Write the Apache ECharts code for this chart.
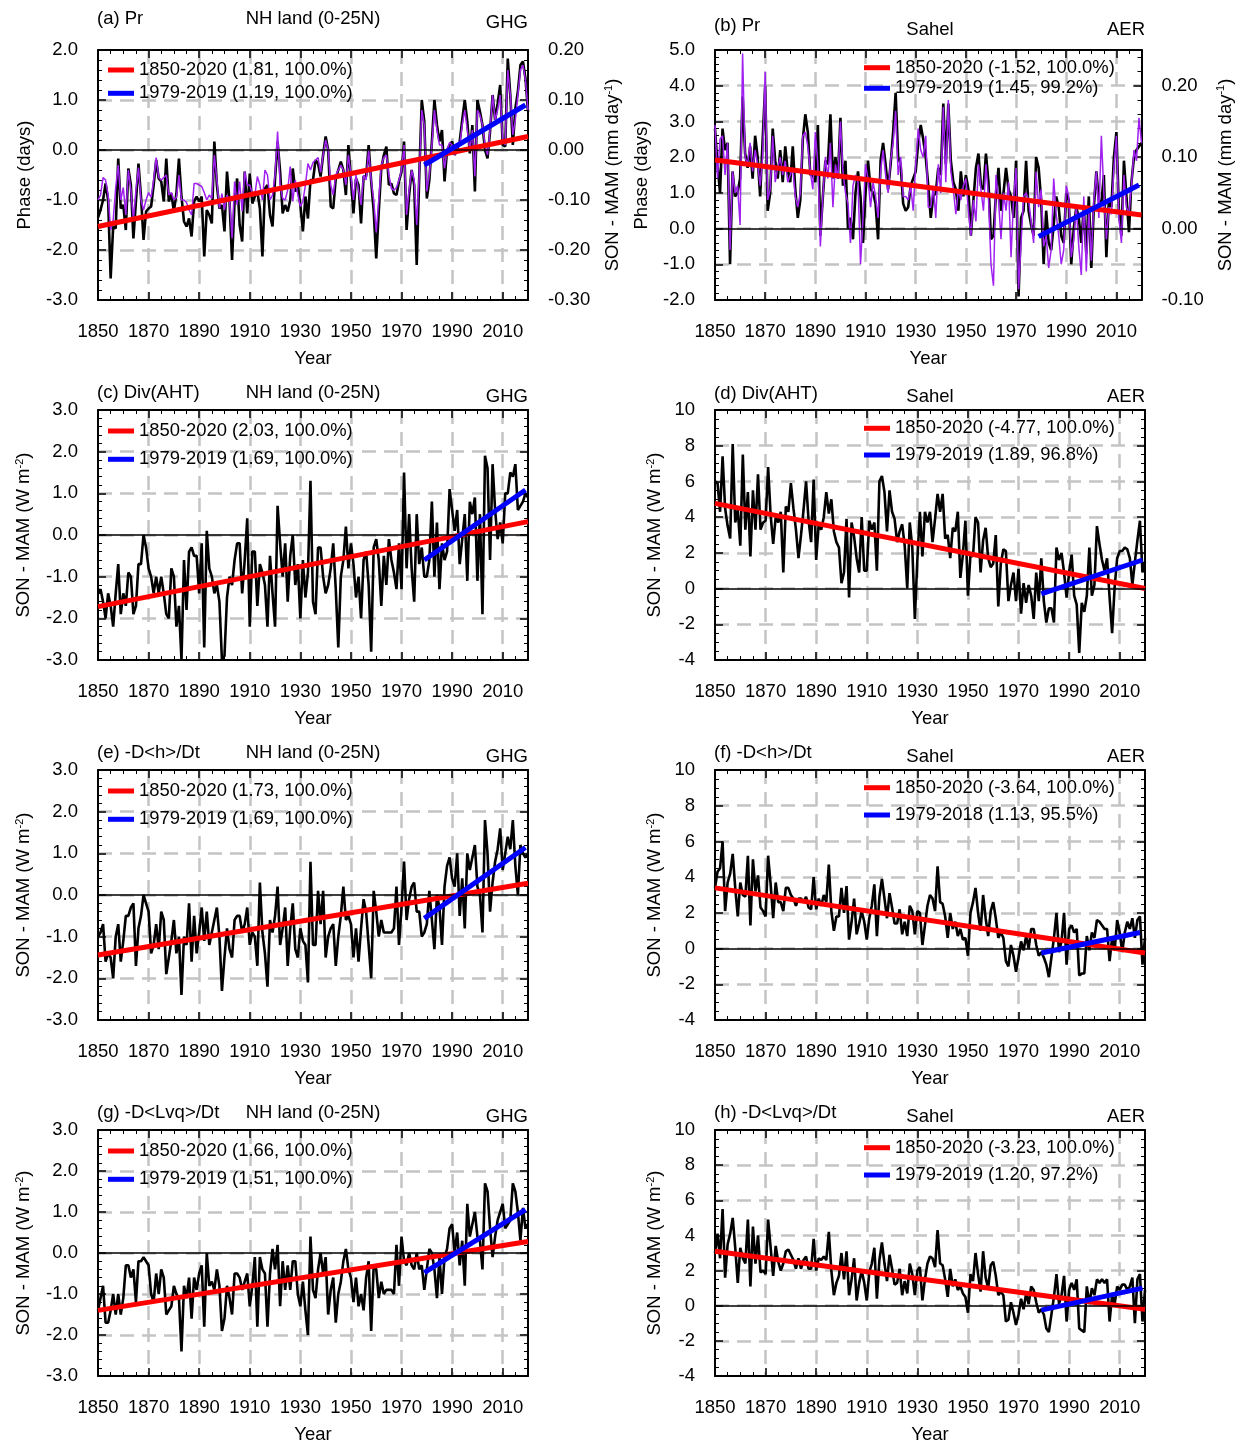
<!DOCTYPE html>
<html>
<head>
<meta charset="utf-8">
<script src="https://cdn.jsdelivr.net/npm/echarts@6/dist/echarts.min.js"></script>
<style>html,body{margin:0;padding:0;background:#fff}#chart{width:1236px;height:1445px}</style>
</head>
<body>
<div id="chart"></div>
<script>
// ---------- categories ----------
const years = [];
for (let y = 1850; y <= 2020; y++) years.push(y);

// ---------- series values ----------
// (a) Pr, NH land, phase (days)
const blackA = [
 -1.35,-1.20,-1.00,-0.67,-1.00,-2.57,-1.53,-1.57,-0.17,-1.17,
 -1.10,-1.60,-0.37,-0.70,-1.77,-1.03,-0.27,-0.93,-1.80,-1.23,
 -1.17,-1.13,-0.70,-0.20,-0.57,-0.63,-1.03,-0.17,-1.03,-0.87,
 -1.23,-0.87,-0.17,-0.93,-1.43,-1.53,-1.37,-1.73,-1.03,-0.93,
 -1.03,-0.93,-2.13,-1.20,-1.30,-1.47,0.17,-0.70,-1.17,-1.10,
 -1.63,-0.43,-1.03,-2.20,-1.03,-0.57,-1.50,-1.83,-0.43,-1.27,
 -0.47,-1.07,-0.93,-0.83,-1.17,-2.13,-0.77,-0.70,-1.30,-1.53,
 -0.57,0.17,-0.43,-1.27,-1.10,-1.23,-1.00,-0.37,-0.83,-0.70,
 -1.10,-1.63,-0.93,-1.37,-0.60,-0.60,-0.20,-0.27,-0.53,-0.10,
 0.27,0.00,-1.13,-1.17,-0.57,-0.40,-0.23,-0.40,-0.90,0.10,
 -0.60,-1.27,-0.57,-0.70,-1.47,-0.53,-0.53,0.10,-0.63,-1.23,
 -2.17,-1.23,-0.37,-0.10,0.07,-0.70,-0.67,-0.87,-0.90,-0.63,
 -0.43,0.17,-1.60,-0.90,-0.40,-0.70,-2.30,-0.53,1.00,0.57,
 -0.97,-0.60,0.17,1.00,0.50,0.17,0.40,-0.63,0.00,0.10,
 0.17,-0.10,0.00,0.17,0.60,1.00,0.57,-0.07,0.50,-0.83,
 1.00,0.77,0.50,0.00,-0.17,0.37,1.10,0.60,0.93,1.30,
 0.10,0.07,1.83,1.10,0.10,0.83,1.17,1.70,1.77,1.43,
 0.77];
// (a) Pr, NH land, SON - MAM (mm/day)
const purpleA = [
 -0.100,-0.090,-0.055,-0.060,-0.090,-0.160,-0.140,-0.075,-0.030,-0.100,
 -0.075,-0.130,-0.040,-0.080,-0.140,-0.080,-0.035,-0.100,-0.120,-0.100,
 -0.085,-0.095,-0.060,-0.015,-0.055,-0.060,-0.055,-0.050,-0.090,-0.085,
 -0.100,-0.095,-0.050,-0.100,-0.100,-0.105,-0.120,-0.130,-0.067,-0.067,
 -0.070,-0.073,-0.085,-0.100,-0.090,-0.097,-0.010,-0.060,-0.117,-0.087,
 -0.120,-0.090,-0.100,-0.177,-0.063,-0.110,-0.063,-0.123,-0.043,-0.070,
 -0.070,-0.087,-0.090,-0.053,-0.070,-0.100,-0.040,-0.050,-0.100,-0.090,
 -0.050,0.037,-0.070,-0.097,-0.100,-0.080,-0.033,-0.103,-0.060,-0.090,
 -0.113,-0.103,-0.070,-0.027,-0.040,-0.025,-0.020,-0.015,-0.045,-0.010,
 0.020,0.000,-0.070,-0.090,-0.050,-0.040,-0.030,-0.040,-0.070,-0.010,
 -0.050,-0.100,-0.050,-0.080,-0.110,-0.050,-0.060,0.000,-0.060,-0.100,
 -0.165,-0.100,-0.030,-0.015,-0.010,-0.050,-0.077,-0.080,-0.075,-0.060,
 -0.040,0.010,-0.130,-0.080,-0.040,-0.060,-0.150,-0.050,0.080,0.050,
 -0.083,-0.050,0.010,0.080,0.040,0.010,0.010,-0.037,0.000,0.015,
 0.010,-0.010,0.005,0.010,0.050,0.080,0.040,0.000,0.040,-0.053,
 0.080,0.070,0.050,0.010,-0.010,0.040,0.110,0.060,0.080,0.110,
 0.020,0.010,0.160,0.110,0.030,0.060,0.110,0.160,0.170,0.140,
 0.080];
// (b) Pr, Sahel, phase (days)
const blackB = [
 2.8,1.8,1.0,2.8,2.2,2.4,-1.0,1.6,0.9,1.0,
 1.4,3.7,2.1,1.7,2.3,1.4,2.6,2.0,0.9,2.5,
 4.0,0.5,1.0,2.8,1.9,1.4,2.2,1.3,2.3,1.6,
 1.3,2.3,1.1,0.3,0.8,2.5,3.2,2.7,1.5,1.5,
 1.3,2.9,-0.2,0.9,1.9,1.8,3.2,1.4,2.0,1.4,
 3.1,1.2,1.9,0.0,0.3,-0.3,1.0,1.6,0.9,-0.4,
 1.0,1.9,1.1,1.0,0.7,-0.3,1.9,2.4,1.8,1.1,
 1.8,2.7,3.8,2.0,1.8,0.7,0.5,0.6,1.2,1.4,
 1.6,2.4,2.9,2.5,2.0,1.2,0.3,0.9,1.0,1.7,
 1.5,3.5,1.8,3.5,1.9,1.3,1.1,0.5,1.6,0.9,
 1.5,1.1,-0.2,0.8,1.7,2.1,1.2,1.1,2.1,1.3,
 -0.3,-0.2,1.0,1.7,0.5,1.0,1.7,1.1,0.9,0.3,
 1.9,-1.9,0.3,0.5,1.9,0.5,0.1,-0.2,2.0,1.7,
 0.8,-1.0,0.5,-0.4,-0.6,0.1,0.9,0.6,-0.2,-0.4,
 1.0,0.8,-1.0,0.0,0.6,0.3,-0.4,0.6,-0.7,0.9,
 -1.1,0.6,1.6,0.8,0.7,1.5,-0.8,0.8,0.6,2.0,
 2.7,0.5,-0.2,1.9,0.9,-0.1,1.3,2.0,2.2,2.3,
 2.4];
// (b) Pr, Sahel, SON - MAM (mm/day)
const purpleB = [
 0.145,0.070,0.125,0.130,0.075,0.120,-0.030,0.080,0.050,0.060,
 0.005,0.245,0.100,0.090,0.120,0.080,0.110,0.090,0.060,0.100,
 0.220,0.040,0.055,0.130,0.065,0.085,0.100,0.075,0.095,0.065,
 0.075,0.085,0.045,0.030,0.050,0.130,0.135,0.115,0.080,0.055,
 0.135,0.090,-0.025,0.045,0.100,0.070,0.120,0.030,0.090,0.070,
 0.150,0.080,0.050,0.035,-0.020,0.060,0.075,0.065,-0.050,0.015,
 0.090,0.070,0.030,0.065,0.045,0.015,0.080,0.110,0.075,0.050,
 0.095,0.120,0.165,0.075,0.100,0.045,0.045,0.040,0.060,0.025,
 0.090,0.140,0.110,0.100,0.130,0.030,0.030,0.060,0.015,0.090,
 0.050,0.170,0.065,0.180,0.080,0.055,0.020,0.055,0.040,0.060,
 0.070,0.025,-0.010,0.040,0.010,0.090,0.055,0.025,0.090,0.045,
 -0.050,-0.080,0.075,0.040,-0.015,0.050,0.025,0.065,-0.040,0.040,
 0.085,-0.085,-0.020,0.045,0.050,0.040,0.010,-0.020,0.080,0.030,
 0.055,-0.025,-0.010,-0.055,-0.030,0.070,0.020,-0.010,-0.050,-0.030,
 0.060,0.045,-0.040,-0.015,0.030,-0.025,-0.065,0.045,-0.060,0.025,
 -0.045,0.040,0.080,0.015,0.130,0.050,-0.015,0.030,0.020,0.085,
 0.130,0.015,-0.020,0.075,0.030,0.020,0.060,0.110,0.095,0.155,
 0.120];
// (c) Div(AHT), NH land (W m-2)
const divAhtNH = [
 -1.4,-1.3,-1.6,-2.0,-1.4,-1.7,-2.2,-1.4,-0.7,-1.9,
 -1.4,-1.7,-0.9,-1.0,-1.9,-1.7,-0.7,-0.7,0.0,-0.3,
 -0.8,-1.0,-1.4,-1.0,-1.4,-1.0,-1.4,-1.9,-2.0,-0.8,
 -1.0,-2.2,-1.7,-3.0,-0.6,-1.8,-0.4,-0.3,-0.5,-0.5,
 -1.4,-0.2,-2.7,0.1,-0.8,-1.0,-1.4,-1.2,-1.6,-3.0,
 -2.9,-1.5,-1.0,-1.2,-0.6,-0.2,-0.2,-1.4,-0.6,0.4,
 -2.2,-0.4,-0.4,-1.7,-0.7,-0.9,-1.2,-2.2,-0.5,-1.4,
 -2.2,0.7,-0.2,-1.0,-0.2,-1.6,-0.5,0.0,-1.2,-0.7,
 -2.0,-0.6,-1.5,-0.9,1.3,-1.6,-1.9,-0.3,-0.3,-1.0,
 -1.4,-1.2,-0.8,-0.2,-1.3,-2.7,-1.0,-0.6,0.2,-0.8,
 -0.2,-0.7,-1.5,-1.0,-2.0,-0.6,-0.4,-1.2,-2.8,-0.3,
 -0.1,-0.6,-1.7,-0.5,-1.2,-0.1,-0.6,-0.9,-1.3,-0.2,
 -1.3,1.5,-0.8,0.5,-0.8,-1.6,0.5,-0.7,-0.3,-1.0,
 -1.0,-0.6,0.8,-1.0,0.3,-1.3,-0.2,-0.6,-0.4,1.1,
 0.6,0.1,0.6,-0.7,-0.1,0.5,-1.1,0.8,0.5,0.9,
 -1.1,0.5,-1.9,1.9,1.6,-0.6,1.7,0.6,-0.1,0.3,
 -0.2,1.0,1.0,1.5,1.4,1.7,0.6,0.7,0.8,1.0,
 0.9];
// (d) Div(AHT), Sahel (W m-2)
const divAhtSahel = [
 6.0,5.9,4.3,7.4,4.5,3.5,2.8,8.1,3.7,4.4,
 2.4,7.5,3.3,5.4,1.8,5.5,3.3,6.4,3.3,3.7,
 3.8,6.8,4.1,2.5,4.0,3.7,4.3,0.9,4.6,4.3,
 5.9,4.5,3.3,1.7,3.0,4.4,6.0,3.8,2.6,6.1,
 1.6,3.6,3.3,4.0,5.4,4.2,5.0,3.2,2.6,2.3,
 0.3,0.9,3.9,-0.5,3.7,2.9,1.7,0.9,4.0,1.0,
 1.0,3.8,3.3,3.7,1.0,6.0,6.3,5.4,3.2,5.5,
 4.3,3.9,2.6,3.2,3.6,2.4,0.0,3.7,2.3,-1.7,
 1.6,4.3,1.8,4.3,3.7,4.3,2.6,3.9,5.3,4.3,
 5.3,2.8,3.0,1.7,3.4,3.2,4.3,0.6,1.9,3.8,
 -0.4,1.9,1.8,4.0,3.7,0.9,2.7,3.4,1.7,1.2,
 1.4,3.0,-1.0,1.4,2.2,2.1,-0.7,0.2,0.9,-0.7,
 1.1,-1.4,0.3,-0.8,0.2,-0.4,-1.7,0.9,-0.7,1.7,
 -0.7,-1.9,-1.1,-1.1,-1.9,2.3,1.6,2.0,0.9,-0.5,
 0.9,1.9,-0.4,-0.9,-3.6,-0.8,-1.3,-0.4,2.3,-0.4,
 0.2,3.5,2.5,1.6,1.0,1.7,-0.5,-2.5,0.1,1.7,
 2.1,2.1,2.3,2.2,1.7,0.2,1.5,2.7,3.8,0.9,
 1.5];
// (e) -D<h>/Dt, NH land (W m-2)
const dhNH = [
 -1.0,-0.9,-0.7,-1.6,-1.4,-1.5,-2.0,-1.0,-0.7,-1.6,
 -1.1,-0.5,-0.5,-0.3,-0.2,-1.7,-0.8,-0.5,0.0,-0.2,
 -0.4,-1.4,-1.2,-0.7,-1.3,-0.4,-0.6,-1.9,-1.5,-1.1,
 -0.6,-1.4,-1.0,-2.4,-1.0,-1.2,-0.2,-1.6,-0.5,-1.4,
 -0.9,-0.3,-1.1,-0.4,-1.2,-0.9,-0.6,-0.3,-1.0,-2.3,
 -1.5,-0.8,-1.3,-1.5,-0.6,-0.5,-0.5,-0.9,-0.7,-0.3,
 -1.2,-0.9,-1.0,-1.7,0.3,-0.9,-1.4,-2.2,-0.6,-0.9,
 -0.5,0.2,-1.2,-0.8,-0.3,-1.7,-0.8,-0.2,-1.3,-1.5,
 -0.8,-1.1,-1.2,-2.1,0.8,-1.2,-1.2,0.1,-0.7,0.1,
 -1.5,-1.0,-0.8,-0.7,-1.7,-1.0,-0.5,0.2,-0.6,-0.5,
 -0.7,-1.5,-0.8,-1.6,-0.8,-0.1,-0.4,-1.2,-2.0,0.1,
 -0.4,-1.0,-0.6,-0.9,-0.9,-0.9,-0.9,-0.8,0.2,-1.2,
 -0.3,0.8,-0.6,-0.1,0.2,0.3,-0.4,-0.4,-1.0,-0.9,
 -0.7,0.1,-0.6,-1.3,0.0,-0.3,-1.2,0.2,0.7,0.9,
 0.4,0.2,1.0,-0.5,0.4,-0.8,1.0,0.6,0.9,1.2,
 0.2,0.0,-0.9,1.8,1.0,-0.4,0.3,0.8,1.1,1.6,
 0.6,1.0,1.4,1.1,1.8,0.7,0.0,1.2,1.0,0.9,
 1.0];
// (f) -D<h>/Dt, Sahel (W m-2)
const dhSahel = [
 3.4,4.3,4.5,6.0,2.1,3.7,4.2,5.3,3.4,1.8,
 3.7,3.0,2.9,5.2,1.3,5.0,3.2,4.1,2.3,2.1,
 1.8,5.2,3.6,1.7,3.7,2.6,2.6,2.1,3.4,3.4,
 3.0,2.8,2.4,2.8,2.8,2.6,2.9,2.3,2.2,4.0,
 2.2,2.8,2.4,3.0,2.6,4.7,2.1,1.0,1.8,1.8,
 3.4,2.0,3.5,0.5,1.5,2.8,0.8,1.4,2.1,1.5,
 0.5,1.7,2.4,3.6,0.7,2.9,3.9,2.8,1.7,3.1,
 2.3,1.4,1.4,2.2,0.8,1.5,0.7,2.4,2.1,0.8,
 2.1,2.0,0.2,1.3,2.4,3.0,2.8,2.1,4.6,2.6,
 2.5,1.8,0.6,2.0,1.1,1.5,0.7,1.1,0.5,0.6,
 -0.4,2.0,2.6,3.4,2.0,1.0,3.0,1.7,0.7,2.1,
 2.6,1.7,0.6,0.9,0.6,-0.7,-1.0,0.2,-0.4,-1.3,
 -0.5,0.4,-0.1,0.7,0.0,1.1,1.1,0.2,-0.4,-0.2,
 -0.5,-0.9,-1.6,-0.5,0.6,2.0,-0.2,0.4,2.0,-0.9,
 1.1,1.3,0.9,1.1,-1.5,-1.4,-1.4,0.7,-0.1,0.9,
 0.6,1.6,1.5,1.3,1.1,1.1,-0.7,0.6,-0.1,1.6,
 0.9,-0.2,0.9,1.5,1.1,1.7,0.6,1.6,1.8,-0.9,
 0.6];
// (g) -D<Lvq>/Dt, NH land (W m-2)
const dlvqNH = [
 -1.4,-1.1,-0.8,-1.7,-1.7,-1.4,-1.0,-1.5,-1.0,-1.5,
 -1.1,-0.3,-0.3,-0.6,-0.4,-1.2,-0.2,-0.2,-0.1,-0.2,
 -0.3,-1.0,-1.2,-0.5,-1.0,-0.4,-0.6,-1.5,-1.4,-1.3,
 -0.8,-1.0,-1.1,-2.4,-0.8,-1.1,-0.6,-1.6,-0.6,-0.9,
 -0.5,-0.3,-1.8,0.0,-0.8,-0.7,-0.9,-0.4,-0.8,-1.9,
 -1.6,-0.8,-1.1,-1.5,-0.5,-0.5,-0.6,-0.9,-0.7,-0.5,
 -1.3,-0.8,-0.1,-1.8,-0.1,-0.4,-0.5,-1.8,-0.5,0.1,
 -0.4,0.2,-1.3,-0.2,-0.9,-0.3,-0.9,-0.2,-0.2,-1.0,
 -1.3,-0.7,-1.4,-2.0,0.4,-0.9,-1.1,-0.4,0.0,-0.5,
 -0.1,-1.5,-0.9,-0.6,-1.7,-1.0,-0.7,-0.2,0.1,-0.4,
 -0.6,-1.2,-0.6,-1.3,-1.0,-1.4,-0.6,-0.2,-1.9,-0.3,
 -0.4,-1.1,-0.7,-1.0,-0.9,-0.9,-0.9,-1.0,0.2,-0.8,
 0.4,-0.2,-0.3,0.0,-0.3,-0.4,0.0,-0.4,-0.3,-0.9,
 -0.4,0.1,0.0,-0.4,-1.1,-0.1,-1.0,-0.1,0.1,0.6,
 0.7,0.0,0.5,-0.3,0.3,-0.8,1.2,0.4,0.7,1.0,
 0.4,0.3,-0.4,1.7,1.5,0.6,-0.1,0.4,0.8,1.0,
 1.2,0.6,0.7,0.8,1.7,1.5,1.0,0.3,1.1,0.6,
 0.7];
// (h) -D<Lvq>/Dt, Sahel (W m-2)
const dlvqSahel = [
 3.0,4.1,2.7,5.5,1.6,3.5,4.1,5.0,3.3,1.3,
 3.3,2.7,2.4,4.9,1.1,4.5,2.4,4.0,1.9,2.0,
 1.8,4.9,3.3,1.7,3.4,2.5,2.0,2.4,3.1,3.2,
 2.9,2.6,2.1,2.7,2.1,2.6,2.8,2.1,2.1,3.8,
 2.0,2.7,2.6,2.8,2.6,4.2,2.0,0.6,1.3,1.7,
 3.0,1.5,3.1,0.6,1.5,2.7,0.3,1.3,2.0,1.3,
 0.3,1.9,2.4,3.3,0.4,2.6,3.6,2.4,1.4,2.9,
 2.1,1.2,1.3,2.1,0.6,1.4,0.7,2.4,1.8,0.6,
 2.0,2.2,0.3,1.5,2.4,2.8,2.7,2.2,4.3,2.4,
 2.3,1.5,0.5,2.1,1.1,1.5,0.9,1.1,0.7,0.5,
 -0.4,1.8,1.4,3.0,1.8,0.8,3.1,1.6,1.0,2.3,
 2.5,1.7,0.6,0.8,0.6,-0.9,-0.8,0.2,-0.4,-1.1,
 -0.5,0.4,-0.2,0.7,0.1,1.1,0.9,0.2,-0.4,-0.2,
 -0.5,-1.3,-1.5,-0.5,0.5,1.8,0.1,0.6,1.7,-0.9,
 0.9,1.3,0.9,1.5,-1.3,-1.4,-1.5,1.1,0.1,1.0,
 0.6,1.5,1.3,1.5,1.3,1.5,-0.9,0.6,0.1,1.1,
 0.9,1.2,1.2,0.9,1.1,1.6,-1.0,1.5,1.8,-0.9,
 0.9];

// ---------- trend lines (start, end values) ----------
const redYears = [1850, 2020];
const trendRedA = [-1.53, 0.27], trendBlueA = [-0.30, 0.90];
const trendRedB = [1.92, 0.38],  trendBlueB = [-0.22, 1.22];
const trendRedC = [-1.72, 0.32], trendBlueC = [-0.60, 1.08];
const trendRedD = [4.77, 0.00],  trendBlueD = [-0.30, 1.60];
const trendRedE = [-1.44, 0.28], trendBlueE = [-0.56, 1.14];
const trendRedF = [3.40, -0.25], trendBlueF = [-0.25, 0.90];
const trendRedG = [-1.40, 0.28], trendBlueG = [-0.48, 1.06];
const trendRedH = [3.10, -0.20], trendBlueH = [-0.25, 1.00];

// ---------- tick / text labels ----------
const xTicks = {min: 1850, max: 2020, interval: 20};
const nameWm2 = '{n|SON - MAM (W m}{s|-2}{n|)}';
const nameMmDay = '{n|SON - MAM (mm day}{s|-1}{n|)}';

// ---------- layout ----------
const FONT = '"Liberation Sans", Arial, Helvetica, sans-serif';
const FS = 18.5;
const GL = [98, 715], GT = [50, 410, 770, 1130], GW = 430, GH = 250;

const panels = [
 {col:0,row:0, black:blackA, purple:purpleA, red:trendRedA, blue:trendBlueA, blueYears:[1979,2019],
  ymin:-3,ymax:2,yint:1,dec:1,minor:5, yname:'Phase (days)', nameGap:64,
  right:{min:-0.3,max:0.2,interval:0.1,nameGap:75,hideMax:false},
  labels:['(a) Pr','NH land (0-25N)','GHG'], labelY:[18,18,22],
  legend:['1850-2020 (1.81, 100.0%)','1979-2019 (1.19, 100.0%)'], legTop:61, legGap:5.3},
 {col:1,row:0, black:blackB, purple:purpleB, red:trendRedB, blue:trendBlueB, blueYears:[1979,2019],
  ymin:-2,ymax:5,yint:1,dec:1,minor:5, yname:'Phase (days)', nameGap:64,
  right:{min:-0.1,max:0.25,interval:0.1,nameGap:74,hideMax:true},
  labels:['(b) Pr','Sahel','AER'], labelY:[25,29,29],
  legend:['1850-2020 (-1.52, 100.0%)','1979-2019 (1.45, 99.2%)'], legTop:58.7, legGap:2.6},
 {col:0,row:1, black:divAhtNH, red:trendRedC, blue:trendBlueC, blueYears:[1979,2019],
  ymin:-3,ymax:3,yint:1,dec:1,minor:5, yname:nameWm2, nameGap:64,
  labels:['(c) Div(AHT)','NH land (0-25N)','GHG'], labelY:[392,392,396],
  legend:['1850-2020 (2.03, 100.0%)','1979-2019 (1.69, 100.0%)'], legTop:422, legGap:10.3},
 {col:1,row:1, black:divAhtSahel, red:trendRedD, blue:trendBlueD, blueYears:[1979,2019],
  ymin:-4,ymax:10,yint:2,dec:0,minor:4, yname:nameWm2, nameGap:50,
  labels:['(d) Div(AHT)','Sahel','AER'], labelY:[393,396,396],
  legend:['1850-2020 (-4.77, 100.0%)','1979-2019 (1.89, 96.8%)'], legTop:419.3, legGap:8.7},
 {col:0,row:2, black:dhNH, red:trendRedE, blue:trendBlueE, blueYears:[1979,2019],
  ymin:-3,ymax:3,yint:1,dec:1,minor:5, yname:nameWm2, nameGap:64,
  labels:['(e) -D<h>/Dt','NH land (0-25N)','GHG'], labelY:[752,752,756],
  legend:['1850-2020 (1.73, 100.0%)','1979-2019 (1.69, 100.0%)'], legTop:782, legGap:10.3},
 {col:1,row:2, black:dhSahel, red:trendRedF, blue:trendBlueF, blueYears:[1979,2018],
  ymin:-4,ymax:10,yint:2,dec:0,minor:4, yname:nameWm2, nameGap:50,
  labels:['(f) -D<h>/Dt','Sahel','AER'], labelY:[752,756,756],
  legend:['1850-2020 (-3.64, 100.0%)','1979-2018 (1.13, 95.5%)'], legTop:778.7, legGap:9.3},
 {col:0,row:3, black:dlvqNH, red:trendRedG, blue:trendBlueG, blueYears:[1979,2019],
  ymin:-3,ymax:3,yint:1,dec:1,minor:5, yname:nameWm2, nameGap:64,
  labels:['(g) -D<Lvq>/Dt','NH land (0-25N)','GHG'], labelY:[1112,1112,1116],
  legend:['1850-2020 (1.66, 100.0%)','1979-2019 (1.51, 100.0%)'], legTop:1142, legGap:10.3},
 {col:1,row:3, black:dlvqSahel, red:trendRedH, blue:trendBlueH, blueYears:[1979,2019],
  ymin:-4,ymax:10,yint:2,dec:0,minor:4, yname:nameWm2, nameGap:50,
  labels:['(h) -D<Lvq>/Dt','Sahel','AER'], labelY:[1112,1116,1116],
  legend:['1850-2020 (-3.23, 100.0%)','1979-2019 (1.20, 97.2%)'], legTop:1138.7, legGap:9.3}
];

const GRID_LINE = {show:true, showMinLine:false, showMaxLine:false,
  lineStyle:{color:'#c4c4c4', width:2.5, type:[14,8]}};
const AXIS_LINE = {show:true, onZero:false, lineStyle:{color:'#000', width:2}};
const TICK = {show:true, inside:true, length:8, lineStyle:{color:'#000', width:1.5}};
const nameStyle = {fontSize:FS, fontFamily:FONT, color:'#000',
  rich:{n:{fontSize:FS, fontFamily:FONT, color:'#000', lineHeight:20},
        s:{fontSize:11, fontFamily:FONT, color:'#000', verticalAlign:'top', lineHeight:11}}};

const option = {animation:false, backgroundColor:'#fff', grid:[], xAxis:[], yAxis:[], series:[], legend:[], graphic:[]};

panels.forEach((p, i) => {
  const L = GL[p.col], T = GT[p.row];
  option.grid.push({left:L, top:T, width:GW, height:GH, show:false});
  const xb = option.xAxis.length;
  option.xAxis.push({gridIndex:i, type:'value', position:'bottom', min:xTicks.min, max:xTicks.max, interval:xTicks.interval,
    axisLine:AXIS_LINE, axisTick:TICK, minorTick:{show:true, splitNumber:4, length:4, lineStyle:{color:'#000', width:1}},
    axisLabel:{show:true, fontSize:FS, fontFamily:FONT, color:'#000', margin:22, showMaxLabel:false, showMinLabel:true,
      formatter:v => String(Math.round(v))},
    splitLine:GRID_LINE,
    name:'Year', nameLocation:'middle', nameGap:49, nameTextStyle:{fontSize:FS, fontFamily:FONT, color:'#000'}});
  option.xAxis.push({gridIndex:i, type:'value', position:'top', min:xTicks.min, max:xTicks.max, interval:xTicks.interval,
    axisLine:AXIS_LINE, axisTick:TICK, minorTick:{show:true, splitNumber:4, length:4, lineStyle:{color:'#000', width:1}},
    axisLabel:{show:false}, splitLine:{show:false}});
  const yl = option.yAxis.length;
  option.yAxis.push({gridIndex:i, type:'value', position:'left', min:p.ymin, max:p.ymax, interval:p.yint,
    axisLine:AXIS_LINE, axisTick:TICK, minorTick:{show:true, splitNumber:p.minor, length:4, lineStyle:{color:'#000', width:1}},
    axisLabel:{fontSize:FS, fontFamily:FONT, color:'#000', margin:20, padding:[4,0,0,0], formatter:v => v.toFixed(p.dec)},
    splitLine:GRID_LINE,
    name:p.yname, nameLocation:'middle', nameGap:p.nameGap, nameRotate:90, nameTextStyle:nameStyle});
  const yr = option.yAxis.length;
  if (p.right) {
    option.yAxis.push({gridIndex:i, type:'value', position:'right', min:p.right.min, max:p.right.max, interval:p.right.interval,
      axisLine:AXIS_LINE, axisTick:TICK, minorTick:{show:true, splitNumber:5, length:4, lineStyle:{color:'#000', width:1}},
      axisLabel:{fontSize:FS, fontFamily:FONT, color:'#000', margin:20, padding:[4,0,0,0], showMaxLabel:!p.right.hideMax, formatter:v => v.toFixed(2)},
      splitLine:{show:false},
      name:nameMmDay, nameLocation:'middle', nameGap:p.right.nameGap, nameRotate:90, nameTextStyle:nameStyle});
  } else {
    option.yAxis.push({gridIndex:i, type:'value', position:'right', min:p.ymin, max:p.ymax, interval:p.yint,
      axisLine:AXIS_LINE, axisTick:TICK, minorTick:{show:true, splitNumber:p.minor, length:4, lineStyle:{color:'#000', width:1}},
      axisLabel:{show:false}, splitLine:{show:false}});
  }
  const pairs = arr => years.map((y, k) => [y, arr[k]]);
  option.series.push({type:'line', name:'black-'+i, xAxisIndex:xb, yAxisIndex:yl, data:pairs(p.black),
    symbol:'none', showSymbol:false, silent:true, z:2,
    itemStyle:{color:'#000'}, lineStyle:{color:'#000', width:2.6},
    markLine:{silent:true, symbol:'none', label:{show:false}, animation:false,
      lineStyle:{color:'#000', width:1.6, type:'solid'}, data:[{yAxis:0}]}});
  if (p.purple) {
    option.series.push({type:'line', name:'purple-'+i, xAxisIndex:xb, yAxisIndex:yr, data:pairs(p.purple),
      symbol:'none', showSymbol:false, silent:true, z:3,
      itemStyle:{color:'#a020f0'}, lineStyle:{color:'#a020f0', width:1.5}});
  }
  option.series.push({type:'line', name:p.legend[0], xAxisIndex:xb, yAxisIndex:yl,
    data:[[redYears[0], p.red[0]], [redYears[1], p.red[1]]],
    symbol:'none', showSymbol:false, silent:true, z:4,
    itemStyle:{color:'#ff0000'}, lineStyle:{color:'#ff0000', width:5}});
  option.series.push({type:'line', name:p.legend[1], xAxisIndex:xb, yAxisIndex:yl,
    data:[[p.blueYears[0], p.blue[0]], [p.blueYears[1], p.blue[1]]],
    symbol:'none', showSymbol:false, silent:true, z:5,
    itemStyle:{color:'#0000ff'}, lineStyle:{color:'#0000ff', width:5}});
  option.legend.push({data:p.legend, orient:'vertical', left:(p.col === 0 ? 108 : 864), top:p.legTop,
    itemGap:p.legGap, itemWidth:26, itemHeight:5, icon:'rect', padding:0, selectedMode:false,
    itemStyle:{borderWidth:0},
    textStyle:{fontSize:18.4, fontFamily:FONT, color:'#000', lineHeight:18}});
  const tx = [L - 1, L + GW / 2, L + GW];
  const al = ['left', 'center', 'right'];
  p.labels.forEach((t, j) => {
    option.graphic.push({type:'text', x:tx[j], y:p.labelY[j] + 1, silent:true,
      style:{text:t, fontSize:FS, fontFamily:FONT, fill:'#000',
        textAlign:al[j], align:al[j], textVerticalAlign:'middle', verticalAlign:'middle'}});
  });
});

const chart = echarts.init(document.getElementById('chart'), null, {renderer:'canvas'});
chart.setOption(option);
</script>
</body>
</html>
